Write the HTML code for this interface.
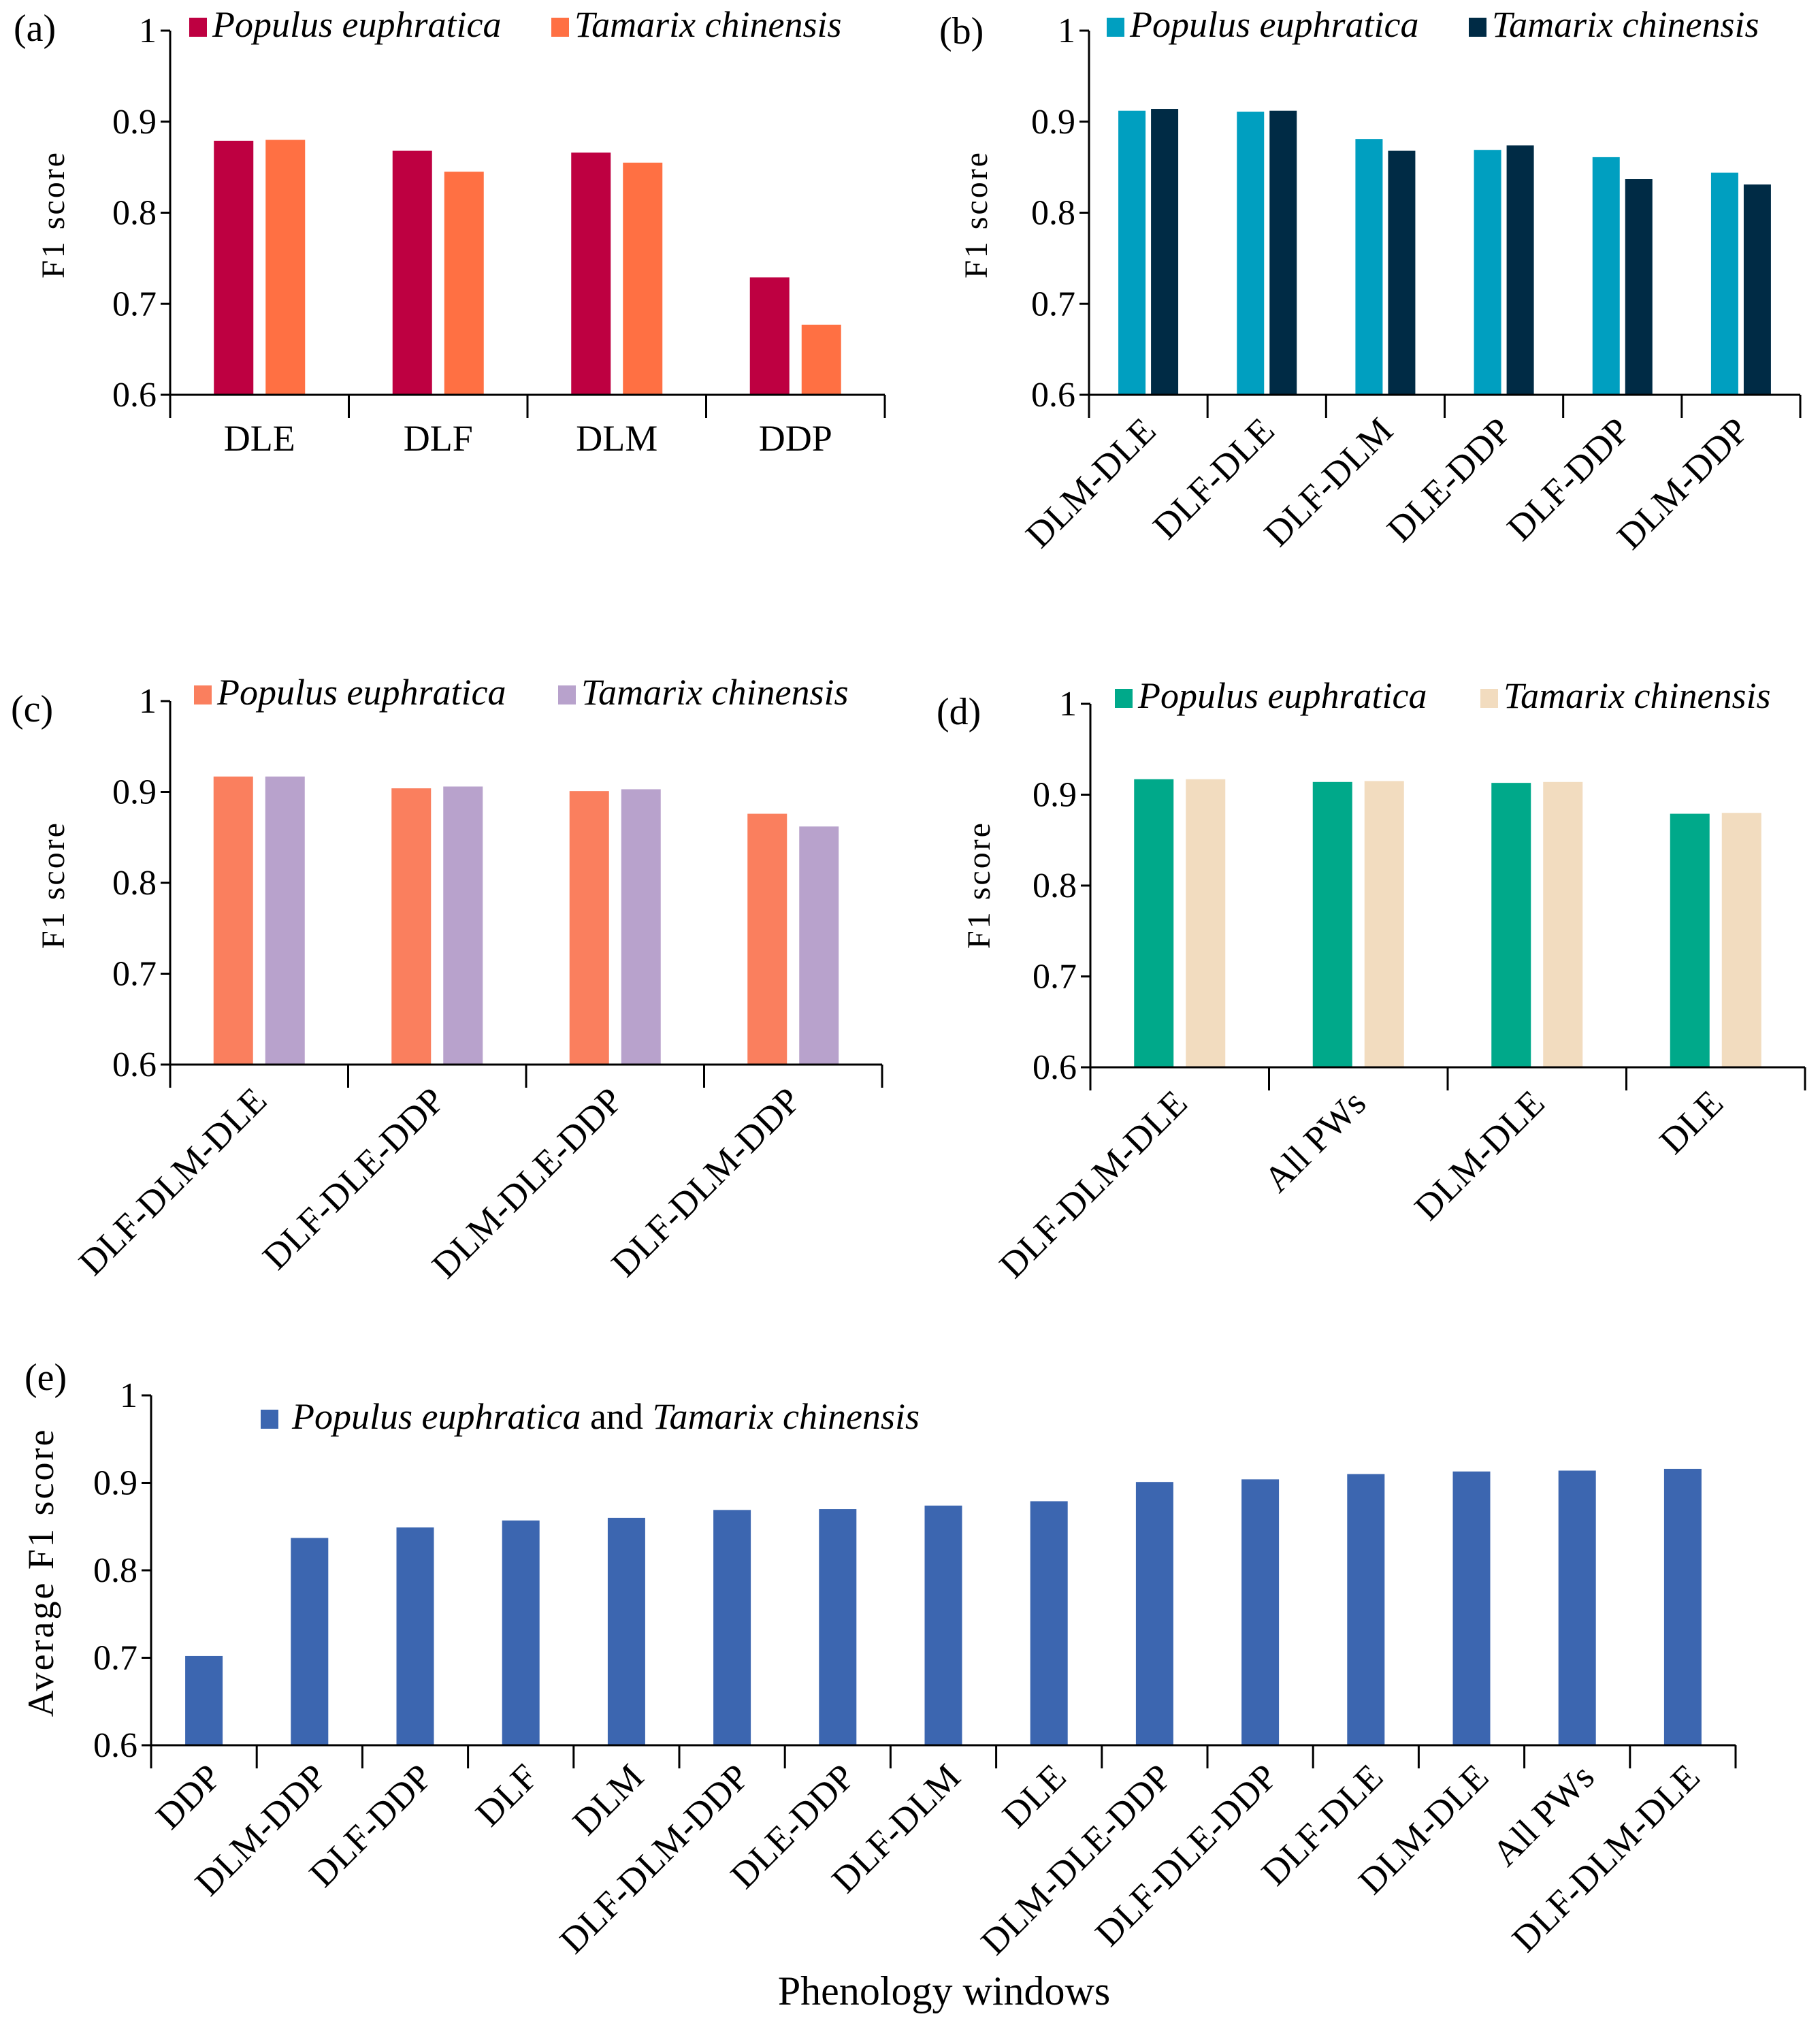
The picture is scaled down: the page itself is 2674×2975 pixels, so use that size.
<!DOCTYPE html>
<html><head><meta charset="utf-8"><style>
html,body{margin:0;padding:0;background:#fff}
svg{display:block}
text{font-family:"Liberation Serif",serif;fill:#000}
</style></head><body>
<svg id="c" width="2674" height="2975" xmlns="http://www.w3.org/2000/svg"></svg>
<script>
const NS="http://www.w3.org/2000/svg";
const svg=document.getElementById('c');
// Data
const catsA=["DLE","DLF","DLM","DDP"];
const peA=[0.879,0.868,0.866,0.729];
const tcA=[0.880,0.845,0.855,0.677];
const catsB=["DLM-DLE","DLF-DLE","DLF-DLM","DLE-DDP","DLF-DDP","DLM-DDP"];
const peB=[0.912,0.911,0.881,0.869,0.861,0.844];
const tcB=[0.914,0.912,0.868,0.874,0.837,0.831];
const catsC=["DLF-DLM-DLE","DLF-DLE-DDP","DLM-DLE-DDP","DLF-DLM-DDP"];
const peC=[0.917,0.904,0.901,0.876];
const tcC=[0.917,0.906,0.903,0.862];
const catsD=["DLF-DLM-DLE","All PWs","DLM-DLE","DLE"];
const peD=[0.917,0.914,0.913,0.879];
const tcD=[0.917,0.915,0.914,0.880];
const catsE=["DDP","DLM-DDP","DLF-DDP","DLF","DLM","DLF-DLM-DDP","DLE-DDP","DLF-DLM","DLE","DLM-DLE-DDP","DLF-DLE-DDP","DLF-DLE","DLM-DLE","All PWs","DLF-DLM-DLE"];
const avgE=[0.702,0.837,0.849,0.857,0.860,0.869,0.870,0.874,0.879,0.901,0.904,0.910,0.913,0.914,0.916];
const yTicks=[0.6,0.7,0.8,0.9,1];
const yTickLabels=["0.6","0.7","0.8","0.9","1"];

function el(tag,attrs,parent){const e=document.createElementNS(NS,tag);for(const k in attrs)e.setAttribute(k,attrs[k]);(parent||svg).appendChild(e);return e;}
function txt(s,attrs,parent){const t=el('text',attrs,parent);t.textContent=s;return t;}

function panel(o){
  const g=el('g',{});
  
  
  const y=v=>o.y0+(v-0.6)/0.4*(o.y1-o.y0);
  const n=o.cats.length, gw=(o.x1-o.x0)/n;
  const ax=el('line',{x1:o.x0,y1:o.y1,x2:o.x0,y2:o.y0,stroke:'#000','stroke-width':3},g);
  
  yTicks.forEach((v,i)=>{
    el('line',{x1:o.x0-14,x2:o.x0,y1:y(v),y2:y(v),stroke:'#000','stroke-width':3},g);
    const t=txt(yTickLabels[i],{x:o.x0-20,y:y(v)+17,'text-anchor':'end','font-size':52},g);
    
  });
  o.series.forEach((s,si)=>{
    s.vals.forEach((v,i)=>{
      const cx=o.x0+gw*(i+0.5)+s.off;
      const r=el('rect',{x:cx-o.bw/2,y:y(v),width:o.bw,height:y(0.6)-y(v),fill:s.color},g);
      
      
    });
  });
  const xa=el('line',{x1:o.x0,y1:o.y0,x2:o.x1,y2:o.y0,stroke:'#000','stroke-width':3},g);
  
  for(let i=0;i<=n;i++){const tx=o.x0+gw*i;el('line',{x1:tx,x2:tx,y1:o.y0,y2:o.y0+34,stroke:'#000','stroke-width':3},g);}
  o.cats.forEach((c,i)=>{
    const cx=o.x0+gw*(i+0.5);
    let t;
    if(o.rot){t=txt(c,{x:cx+o.rdx,y:o.y0+o.rdy,'text-anchor':'end','font-size':o.fs||54,transform:`rotate(-45 ${cx+o.rdx} ${o.y0+o.rdy})`},g);}
    else t=txt(c,{x:cx,y:o.y0+82,'text-anchor':'middle','font-size':54},g);
    
  });
  const yl=txt(o.ylabel,{x:0,y:0,'text-anchor':'middle','font-size':o.yfs||48,'letter-spacing':o.yls||3,transform:`translate(${o.ylx},${o.yly}) rotate(-90)`},g);
  
  const pl=txt(o.letter,{x:o.lx,y:o.ly,'font-size':56},g);
  
  o.legend.forEach(L=>{
    const lg=el('g',{},g);
    
    el('rect',{x:L.x,y:L.y,width:L.w||26,height:L.h||28,fill:L.color},lg);
    const t=el('text',{x:L.x+(L.tx||34),y:L.y+28,'font-size':L.fs||54},lg);
    t.innerHTML=L.html;
  });
}

const it=s=>`<tspan font-style="italic">${s}</tspan>`;
panel({name:'panel-a',letter:'(a)',lx:20,ly:60,x0:250,x1:1300,y1:45,y0:580,cats:catsA,bw:58,
  series:[{key:'pe',vals:peA,color:'#be0041',off:-38},{key:'tc',vals:tcA,color:'#ff7043',off:38}],
  ylabel:'F1 score',ylx:94,yly:315,
  legend:[{x:278,y:26,color:'#be0041',html:it('Populus euphratica')},{x:810,y:26,color:'#ff7043',html:it('Tamarix chinensis')}]});
panel({name:'panel-b',letter:'(b)',lx:1380,ly:64,x0:1600,x1:2645,y1:45,y0:580,cats:catsB,bw:40,rot:true,rdx:14,rdy:56,
  series:[{key:'pe',vals:peB,color:'#009fc0',off:-24},{key:'tc',vals:tcB,color:'#002b45',off:24}],
  ylabel:'F1 score',ylx:1450,yly:315,
  legend:[{x:1626,y:26,color:'#009fc0',html:it('Populus euphratica')},{x:2158,y:26,color:'#002b45',html:it('Tamarix chinensis')}]});
panel({name:'panel-c',letter:'(c)',lx:16,ly:1060,x0:250,x1:1296,y1:1030,y0:1564,cats:catsC,bw:58,rot:true,rdx:14,rdy:56,
  series:[{key:'pe',vals:peC,color:'#fa7f5e',off:-38},{key:'tc',vals:tcC,color:'#b8a2cc',off:38}],
  ylabel:'F1 score',ylx:94,yly:1300,
  legend:[{x:285,y:1007,color:'#fa7f5e',html:it('Populus euphratica')},{x:820,y:1007,color:'#b8a2cc',html:it('Tamarix chinensis')}]});
panel({name:'panel-d',letter:'(d)',lx:1376,ly:1064,x0:1602,x1:2652,y1:1034,y0:1568,cats:catsD,bw:58,rot:true,rdx:14,rdy:56,
  series:[{key:'pe',vals:peD,color:'#00a98a',off:-38},{key:'tc',vals:tcD,color:'#f2dcbf',off:38}],
  ylabel:'F1 score',ylx:1454,yly:1300,
  legend:[{x:1638,y:1012,color:'#00a98a',html:it('Populus euphratica')},{x:2175,y:1012,color:'#f2dcbf',html:it('Tamarix chinensis')}]});
panel({name:'panel-e',letter:'(e)',lx:36,ly:2042,x0:222,x1:2550,y1:2050,y0:2564,cats:catsE,bw:55,rot:true,rdx:28,rdy:50,
  series:[{key:'avg',vals:avgE,color:'#3c66b0',off:0}],
  ylabel:'Average F1 score',ylx:78,yly:2310,yfs:54,
  legend:[{x:383,y:2071,w:26,h:28,color:'#3c66b0',tx:46,fs:54,html:it('Populus euphratica')+' and '+it('Tamarix chinensis')}]});
const xt=txt('Phenology windows',{x:1387,y:2945,'text-anchor':'middle','font-size':60});


</script>
</body></html>
